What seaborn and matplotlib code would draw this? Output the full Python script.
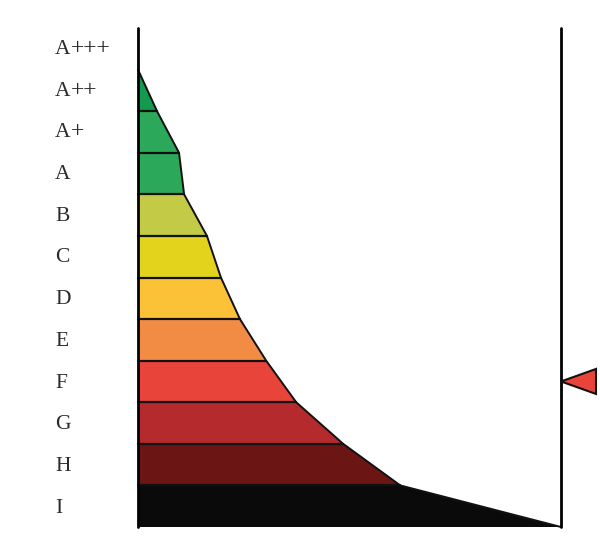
import matplotlib
matplotlib.use("Agg")
import matplotlib.pyplot as plt
import seaborn as sns
import pandas as pd

sns.set_style("white")
plt.rcParams['font.family'] = ['Liberation Serif', 'DejaVu Serif']

# Data
categories = ["A+++", "A++", "A+", "A", "B", "C", "D", "E", "F", "G", "H", "I"]
# right-edge value at the top boundary of each band (A+++ band empty), plus bottom of I
edge_values = [None, 0.0, 4.5, 9.7, 10.9, 16.3, 19.6, 24.1, 30.3, 37.4, 48.5, 62.0, 100.0]
band_colors = [None, "#139a4e", "#2ba85a", "#2ba85a", "#c3cb46", "#e3d31d", "#fbc238",
               "#f28c45", "#e8443a", "#b52a2d", "#6b1515", "#0a0a0a"]
marker_category = "F"
scale_max = 100.0

W, H = 600, 558
fig = plt.figure(figsize=(W / 100, H / 100), dpi=100)
ax = fig.add_axes([0, 0, 1, 1])

# pixel mapping
x0_px, x1_px = 138, 561
ux = scale_max / (x1_px - x0_px)
top_px, bot_px = 28, 527
uy = (bot_px - top_px) / len(categories)
ax.set_xlim(-x0_px * ux, (W - x0_px) * ux)
ax.set_ylim((H - top_px) / uy, -top_px / uy)
ax.axis("off")

# bands
for i in range(1, len(categories)):
    xt = edge_values[i]
    xb = edge_values[i + 1]
    ax.fill([0, xt, xb, 0], [i, i, i + 1, i + 1], facecolor=band_colors[i],
            edgecolor="none", zorder=1)
    ax.plot([0, xt], [i, i], color="#111111", lw=1.6, zorder=2)

# outline of right edges
df = pd.DataFrame({"x": edge_values[1:], "y": list(range(1, len(categories) + 1))})
sns.lineplot(data=df, x="x", y="y", sort=False, color="#111111", lw=1.4,
             estimator=None, ax=ax, zorder=3)

# vertical axis lines
ax.plot([0, 0], [0, len(categories)], color="black", lw=2.0, zorder=4)
ax.plot([scale_max, scale_max], [0, len(categories)], color="black", lw=2.0, zorder=4)

# category labels (letter + wider plus signs)
for i, c in enumerate(categories):
    letter = c.rstrip("+")
    plus = c[len(letter):]
    yb = i + 0.5 + (6.5 - 0.12 * (11 - i)) / uy
    ax.text(-83 * ux, yb, letter, ha="left", va="baseline", fontsize=15.5, color="#2a2a2a")
    if plus:
        ax.text(-67.5 * ux, yb, plus, ha="left", va="baseline", fontsize=17,
                color="#2a2a2a")

# marker triangle
mi = categories.index(marker_category) + 0.5
tri_x = [scale_max, scale_max + 35 * ux, scale_max + 35 * ux, scale_max]
tri_y = [mi, mi - 12.5 / uy, mi + 12.5 / uy, mi]
ax.fill(tri_x, tri_y, facecolor="#e8443a", edgecolor="#111111", lw=1.5, zorder=5)

fig.savefig("out.png", dpi=100)
